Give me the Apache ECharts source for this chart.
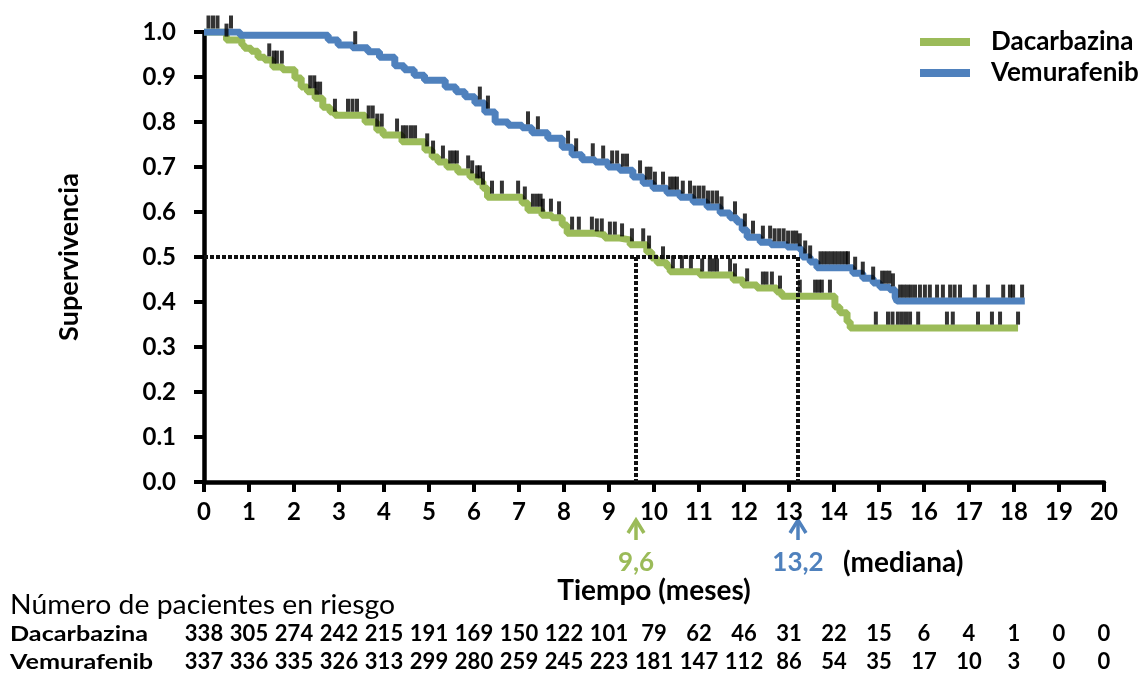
<!DOCTYPE html>
<html><head><meta charset="utf-8">
<script src="https://cdn.jsdelivr.net/npm/echarts@6/dist/echarts.min.js"></script>
<style>html,body{margin:0;padding:0;background:#fff}#c{width:1148px;height:673px}</style>
</head><body><div id="c"></div>
<script>
// ---- data ----
const seriesNames = ['Dacarbazina', 'Vemurafenib'];
const dacTime = [0, 0.5, 0.84, 0.9, 1.05, 1.2, 1.35, 1.53, 1.75, 2.02, 2.16, 2.3, 2.47, 2.64, 2.8, 2.91, 3.58, 3.84, 3.98, 4.4, 4.91, 5.07, 5.2, 5.4, 5.64, 5.91, 6.07, 6.2, 6.3, 7.07, 7.2, 7.51, 7.73, 7.96, 8.07, 8.69, 8.91, 9.24, 9.47, 9.84, 9.95, 10.07, 10.29, 10.36, 11.02, 11.76, 11.98, 12.29, 12.73, 12.84, 14.02, 14.13, 14.29, 14.36, 18.09];
const dacSurv = [1.0, 0.982, 0.971, 0.964, 0.957, 0.944, 0.938, 0.922, 0.916, 0.898, 0.878, 0.867, 0.853, 0.833, 0.822, 0.815, 0.80, 0.782, 0.771, 0.756, 0.738, 0.722, 0.711, 0.70, 0.689, 0.678, 0.667, 0.653, 0.633, 0.62, 0.604, 0.593, 0.587, 0.571, 0.553, 0.549, 0.542, 0.538, 0.527, 0.511, 0.498, 0.487, 0.478, 0.467, 0.46, 0.449, 0.438, 0.431, 0.422, 0.413, 0.389, 0.376, 0.356, 0.342, 0.342];
const vemTime = [0, 0.8, 2.76, 2.98, 3.3, 3.64, 3.9, 4.24, 4.45, 4.67, 4.9, 5.36, 5.6, 5.8, 6.02, 6.24, 6.47, 6.76, 7.07, 7.29, 7.64, 7.96, 8.18, 8.4, 8.69, 8.98, 9.24, 9.53, 9.76, 9.98, 10.29, 10.58, 10.87, 11.18, 11.47, 11.69, 11.84, 11.96, 12.07, 12.36, 12.6, 12.96, 13.24, 13.3, 13.47, 13.62, 14.42, 14.64, 14.87, 15.02, 15.24, 15.36, 15.4, 18.24];
const vemSurv = [1.0, 0.993, 0.982, 0.971, 0.965, 0.956, 0.944, 0.925, 0.916, 0.904, 0.893, 0.878, 0.867, 0.856, 0.842, 0.822, 0.80, 0.793, 0.787, 0.776, 0.764, 0.744, 0.727, 0.716, 0.711, 0.70, 0.693, 0.678, 0.664, 0.653, 0.642, 0.633, 0.622, 0.611, 0.598, 0.587, 0.578, 0.56, 0.544, 0.533, 0.527, 0.522, 0.516, 0.50, 0.489, 0.476, 0.464, 0.453, 0.442, 0.433, 0.427, 0.411, 0.402, 0.402];
const dacCensor = [0.1, 0.2, 0.3, 0.5, 1.45, 1.55, 1.62, 1.73, 2.36, 2.45, 2.5, 2.58, 2.91, 3.2, 3.3, 3.4, 3.66, 3.75, 3.85, 3.95, 4.29, 4.42, 4.5, 4.6, 4.69, 4.96, 5.09, 5.31, 5.47, 5.55, 5.62, 5.87, 5.96, 6.07, 6.13, 6.2, 6.4, 6.62, 6.98, 7.13, 7.31, 7.4, 7.48, 7.53, 7.71, 7.89, 8.18, 8.33, 8.62, 8.73, 8.84, 9.02, 9.13, 9.29, 9.51, 9.76, 9.89, 10.2, 10.42, 10.62, 10.82, 11.07, 11.24, 11.32, 11.4, 11.69, 11.8, 12.07, 12.42, 12.5, 12.62, 12.8, 13.24, 13.58, 13.66, 13.73, 13.91, 14.93, 15.2, 15.3, 15.42, 15.51, 15.6, 15.69, 15.87, 16.51, 16.64, 17.2, 17.51, 17.69, 18.09];
const vemCensor = [0.6, 3.36, 6.13, 6.31, 7.2, 7.42, 8.09, 8.27, 8.64, 8.87, 9.07, 9.18, 9.31, 9.4, 9.69, 9.84, 9.92, 10.02, 10.2, 10.36, 10.44, 10.51, 10.64, 10.8, 10.9, 11.0, 11.1, 11.2, 11.3, 11.4, 11.5, 11.8, 12.02, 12.2, 12.42, 12.58, 12.68, 12.78, 12.88, 12.98, 13.08, 13.16, 13.24, 13.36, 13.47, 13.7, 13.78, 13.86, 13.94, 14.02, 14.1, 14.18, 14.26, 14.31, 14.47, 14.64, 14.87, 15.07, 15.15, 15.23, 15.31, 15.47, 15.55, 15.63, 15.71, 15.8, 15.91, 16.02, 16.13, 16.29, 16.42, 16.58, 16.68, 16.8, 17.13, 17.42, 17.76, 17.91, 17.98, 18.18];
const medians = [9.6, 13.2];
const medianLabels = ['9,6', '13,2'];
const medianLevel = 0.5;
const riskMonths = [0,1,2,3,4,5,6,7,8,9,10,11,12,13,14,15,16,17,18,19,20];
const dacRisk = [338, 305, 274, 242, 215, 191, 169, 150, 122, 101, 79, 62, 46, 31, 22, 15, 6, 4, 1, 0, 0];
const vemRisk = [337, 336, 335, 326, 313, 299, 280, 259, 245, 223, 181, 147, 112, 86, 54, 35, 17, 10, 3, 0, 0];

// ---- styles ----
const GREEN = '#9BBB59', BLUE = '#4F81BD';
const FONT = 'Lato, "Open Sans", sans-serif';

function survAt(times, surv, t) {
  let s = surv[0];
  for (let i = 0; i < times.length; i++) if (times[i] <= t) s = surv[i];
  return s;
}
const pairs = (ts, ss) => ts.map((t, i) => [t, ss[i]]);

const chart = echarts.init(document.getElementById('c'), null, {renderer: 'canvas'});

const riskAxis = (arr, offset) => ({
  type: 'value', min: 0, max: 20, interval: 1, position: 'bottom', offset: offset,
  axisLine: {show: false}, axisTick: {show: false}, splitLine: {show: false},
  axisLabel: {margin: 0, color: '#000', fontSize: 22, fontWeight: 'bold', fontFamily: FONT,
    formatter: v => { const i = riskMonths.indexOf(Math.round(v)); return i >= 0 ? String(arr[i]) : ''; }}
});

const censorSeries = (name, ts, st, cs) => ({
  name: name, type: 'scatter', symbol: 'rect', symbolSize: [4, 13], symbolOffset: [0, -10],
  itemStyle: {color: '#000'}, z: 4, silent: true,
  data: cs.map(t => [t, survAt(ts, st, t)])
});

chart.setOption({
  animation: false,
  grid: {left: 204, right: 44, top: 32, bottom: 191},
  legend: {
    data: seriesNames, orient: 'vertical', left: 915, top: 24, itemGap: 5,
    icon: 'rect', itemWidth: 50, itemHeight: 8,
    textStyle: {fontSize: 26, fontWeight: 'bold', color: '#000', fontFamily: FONT, padding: [0, 0, 0, 16]}
  },
  xAxis: [
    {type: 'value', min: 0, max: 20, interval: 1,
     axisLine: {show: true, onZero: false, lineStyle: {color: '#000', width: 4.5}},
     axisTick: {show: true, length: 10, lineStyle: {color: '#000', width: 4}},
     splitLine: {show: false},
     axisLabel: {margin: 18, fontSize: 24, fontWeight: 'bold', color: '#000', fontFamily: FONT},
     name: 'Tiempo (meses)', nameLocation: 'middle', nameGap: 95,
     nameTextStyle: {fontSize: 28, fontWeight: 'bold', color: '#000', fontFamily: FONT}},
    riskAxis(dacRisk, 141),
    riskAxis(vemRisk, 169)
  ],
  yAxis: {
    type: 'value', min: 0, max: 1, interval: 0.1,
    axisLine: {show: true, onZero: false, lineStyle: {color: '#000', width: 4.5}},
    axisTick: {show: true, length: 10, lineStyle: {color: '#000', width: 4}},
    splitLine: {show: false},
    axisLabel: {margin: 28, fontSize: 24, fontWeight: 'bold', color: '#000', fontFamily: FONT,
      formatter: v => v.toFixed(1)},
    name: 'Supervivencia', nameLocation: 'middle', nameGap: 121, nameRotate: 90,
    nameTextStyle: {fontSize: 27, fontWeight: 'bold', color: '#000', fontFamily: FONT}
  },
  series: [
    {name: 'median', type: 'line', data: [], silent: true,
     markLine: {silent: true, symbol: 'none', label: {show: false},
       lineStyle: {color: '#111', width: 4, type: [4, 2]},
       data: [
         [{coord: [0, medianLevel]}, {coord: [medians[1], medianLevel]}],
         [{coord: [medians[0], medianLevel]}, {coord: [medians[0], 0]}],
         [{coord: [medians[1], medianLevel]}, {coord: [medians[1], 0]}]
       ]}},
    {name: seriesNames[0], type: 'line', step: 'end', showSymbol: false, z: 3,
     lineStyle: {color: GREEN, width: 7}, itemStyle: {color: GREEN},
     data: pairs(dacTime, dacSurv)},
    {name: seriesNames[1], type: 'line', step: 'end', showSymbol: false, z: 3,
     lineStyle: {color: BLUE, width: 7}, itemStyle: {color: BLUE},
     data: pairs(vemTime, vemSurv)},
    censorSeries('cens_dac', dacTime, dacSurv, dacCensor),
    censorSeries('cens_vem', vemTime, vemSurv, vemCensor)
  ]
});

// annotations placed via the chart's own scale
const axisY = chart.convertToPixel({yAxisIndex: 0}, 0);
const colors = [GREEN, BLUE];
const graphics = [];
medians.forEach((m, i) => {
  const x = chart.convertToPixel({xAxisIndex: 0}, m);
  const top = axisY + 38, bot = axisY + 58;
  graphics.push({type: 'polyline', shape: {points: [[x - 8, top + 13], [x, top], [x + 8, top + 13]]},
    style: {stroke: colors[i], lineWidth: 3.5, fill: null}});
  graphics.push({type: 'line', shape: {x1: x, y1: top, x2: x, y2: bot},
    style: {stroke: colors[i], lineWidth: 3.5}});
  graphics.push({type: 'text', x: x, y: axisY + 81, style: {text: medianLabels[i], fill: colors[i],
    font: 'bold 26px ' + FONT, textAlign: 'center', textVerticalAlign: 'middle'}});
});
const xMed = chart.convertToPixel({xAxisIndex: 0}, medians[1]);
graphics.push({type: 'text', x: xMed + 45, y: axisY + 81, style: {text: '(mediana)', fill: '#000',
  font: 'bold 28px ' + FONT, textAlign: 'left', textVerticalAlign: 'middle'}});
graphics.push({type: 'text', x: 10, y: 605, scaleX: 1.05, style: {text: 'Número de pacientes en riesgo', fill: '#000',
  font: '27px ' + FONT, textVerticalAlign: 'middle'}});
graphics.push({type: 'text', x: 10, y: 634, scaleX: 1.2, style: {text: seriesNames[0], fill: '#000',
  font: 'bold 21px ' + FONT, textVerticalAlign: 'middle'}});
graphics.push({type: 'text', x: 10, y: 662, scaleX: 1.2, style: {text: seriesNames[1], fill: '#000',
  font: 'bold 21px ' + FONT, textVerticalAlign: 'middle'}});
chart.setOption({graphic: graphics});
</script></body></html>
